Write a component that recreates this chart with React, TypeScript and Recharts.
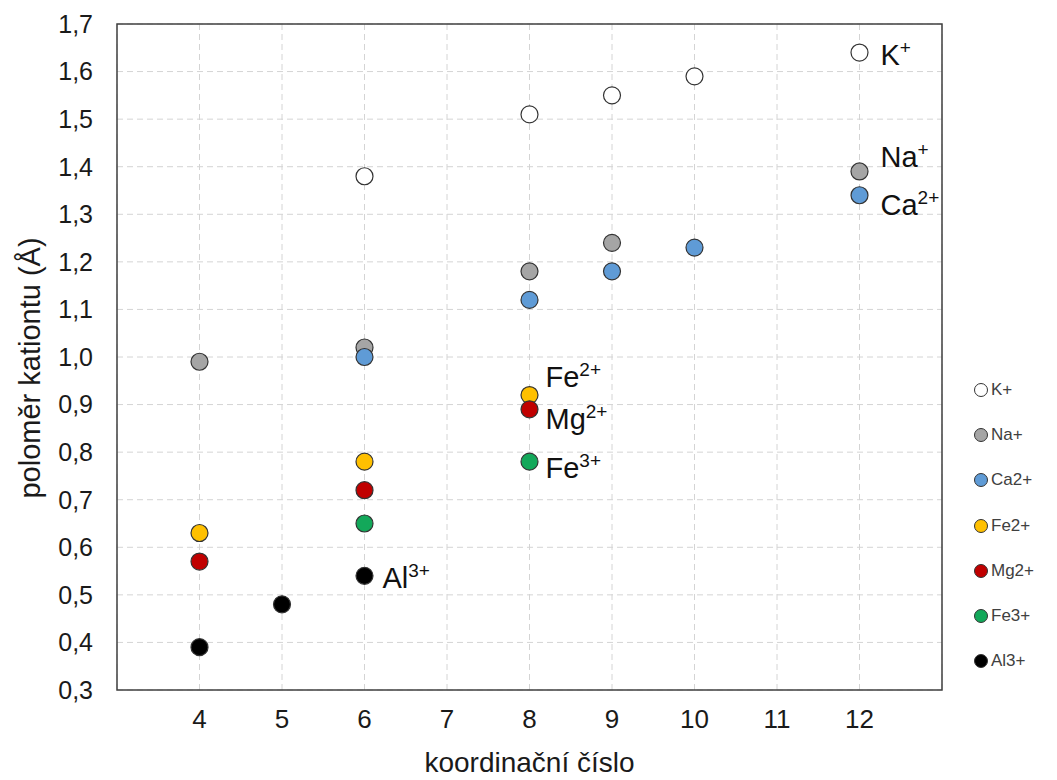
import React from "react";
import {
  ScatterChart,
  Scatter,
  XAxis,
  YAxis,
  CartesianGrid,
  ReferenceArea,
  Label,
} from "recharts";

// koordinační číslo -> poloměr kationtu (Å)
const kX = [6, 8, 9, 10, 12];
const kY = [1.38, 1.51, 1.55, 1.59, 1.64];
const naX = [4, 6, 8, 9, 12];
const naY = [0.99, 1.02, 1.18, 1.24, 1.39];
const caX = [6, 8, 9, 10, 12];
const caY = [1.0, 1.12, 1.18, 1.23, 1.34];
const fe2X = [4, 6, 8];
const fe2Y = [0.63, 0.78, 0.92];
const mgX = [4, 6, 8];
const mgY = [0.57, 0.72, 0.89];
const fe3X = [6, 8];
const fe3Y = [0.65, 0.78];
const alX = [4, 5, 6];
const alY = [0.39, 0.48, 0.54];

const xTicks = [4, 5, 6, 7, 8, 9, 10, 11, 12];
const yTicks = [0.3, 0.4, 0.5, 0.6, 0.7, 0.8, 0.9, 1.0, 1.1, 1.2, 1.3, 1.4, 1.5, 1.6, 1.7];

// which point of each series carries the in-plot tag
const tagAt: Record<string, number> = {
  "K+": 12,
  "Na+": 12,
  "Ca2+": 12,
  "Fe2+": 8,
  "Mg2+": 8,
  "Fe3+": 8,
  "Al3+": 6,
};
const tagText: Record<string, [string, string]> = {
  "K+": ["K", "+"],
  "Na+": ["Na", "+"],
  "Ca2+": ["Ca", "2+"],
  "Fe2+": ["Fe", "2+"],
  "Mg2+": ["Mg", "2+"],
  "Fe3+": ["Fe", "3+"],
  "Al3+": ["Al", "3+"],
};
// offsets of the tag from the marker centre (baseline)
const tagOffset: Record<string, [number, number]> = {
  "K+": [21, 12],
  "Na+": [21, -4],
  "Ca2+": [21, 20],
  "Fe2+": [16, -8],
  "Mg2+": [16, 20],
  "Fe3+": [16, 16],
  "Al3+": [18, 12],
};

const series = [
  { name: "K+", xs: kX, ys: kY, color: "#ffffff" },
  { name: "Na+", xs: naX, ys: naY, color: "#a5a5a5" },
  { name: "Ca2+", xs: caX, ys: caY, color: "#5f9bd6" },
  { name: "Fe2+", xs: fe2X, ys: fe2Y, color: "#ffc000" },
  { name: "Mg2+", xs: mgX, ys: mgY, color: "#c00000" },
  { name: "Fe3+", xs: fe3X, ys: fe3Y, color: "#13a85a" },
  { name: "Al3+", xs: alX, ys: alY, color: "#000000" },
];

const FONT = "'Liberation Sans', Arial, sans-serif";

function makeShape(name: string, color: string) {
  return (p: any) => {
    const tagged = p.payload && p.payload.x === tagAt[name];
    const [main, sup] = tagText[name];
    const [dx, dy] = tagOffset[name];
    return (
      <g>
        <circle cx={p.cx} cy={p.cy} r={8.5} fill={color} stroke="#333" strokeWidth={1.2} />
        {tagged && (
          <text x={p.cx + dx} y={p.cy + dy} fontFamily={FONT} fontSize={29} fill="#111">
            {main}
            <tspan fontSize={19} dy={-11}>
              {sup}
            </tspan>
          </text>
        )}
      </g>
    );
  };
}

function LegendBox() {
  return (
    <div style={{ position: "absolute", left: 973, top: 367, fontFamily: FONT }}>
      {series.map((s) => (
        <div key={s.name} style={{ display: "flex", alignItems: "center", height: 45.3 }}>
          <svg width={16} height={16}>
            <circle cx={8} cy={8} r={6.5} fill={s.color} stroke="#333" strokeWidth={1} />
          </svg>
          <span style={{ fontSize: 17, color: "#404040", marginLeft: 2 }}>{s.name}</span>
        </div>
      ))}
    </div>
  );
}

export default function App() {
  return (
    <div style={{ position: "absolute", left: 0, top: 0, width: 1057, height: 780, background: "#fff" }}>
      <ScatterChart width={1057} height={780} margin={{ top: 24, right: 115, bottom: 0, left: 0 }}>
        <CartesianGrid stroke="#d4d4d4" strokeDasharray="6 4" />
        <XAxis
          type="number"
          dataKey="x"
          domain={[3, 13]}
          ticks={xTicks}
          height={90}
          tickLine={false}
          axisLine={false}
          tickSize={0}
          tickMargin={20}
          tick={{ fontSize: 26, fill: "#1a1a1a", fontFamily: FONT }}
        >
          <Label
            content={(props: any) => {
              const vb = props.viewBox;
              return (
                <text x={vb.x + vb.width / 2} y={772} textAnchor="middle" fontFamily={FONT} fontSize={28} fill="#1a1a1a">
                  koordinační číslo
                </text>
              );
            }}
          />
        </XAxis>
        <YAxis
          type="number"
          dataKey="y"
          domain={[0.3, 1.7]}
          ticks={yTicks}
          width={117}
          tickLine={false}
          axisLine={false}
          tickSize={0}
          tickMargin={24}
          interval={0}
          tickFormatter={(v: number) => v.toFixed(1).replace(".", ",")}
          tick={{ fontSize: 25, fill: "#1a1a1a", fontFamily: FONT }}
        >
          <Label
            content={() => (
              <text
                x={40}
                y={368}
                textAnchor="middle"
                fontFamily={FONT}
                fontSize={29}
                fill="#1a1a1a"
                transform="rotate(-90 40 368)"
              >
                poloměr kationtu (Å)
              </text>
            )}
          />
        </YAxis>
        <ReferenceArea x1={3} x2={13} y1={0.3} y2={1.7} fill="none" stroke="#404040" strokeWidth={1.5} />
        {series.map((s) => (
          <Scatter
            key={s.name}
            name={s.name}
            data={s.xs.map((x, i) => ({ x, y: s.ys[i] }))}
            isAnimationActive={false}
            shape={makeShape(s.name, s.color)}
          />
        ))}
      </ScatterChart>
      <LegendBox />
    </div>
  );
}
